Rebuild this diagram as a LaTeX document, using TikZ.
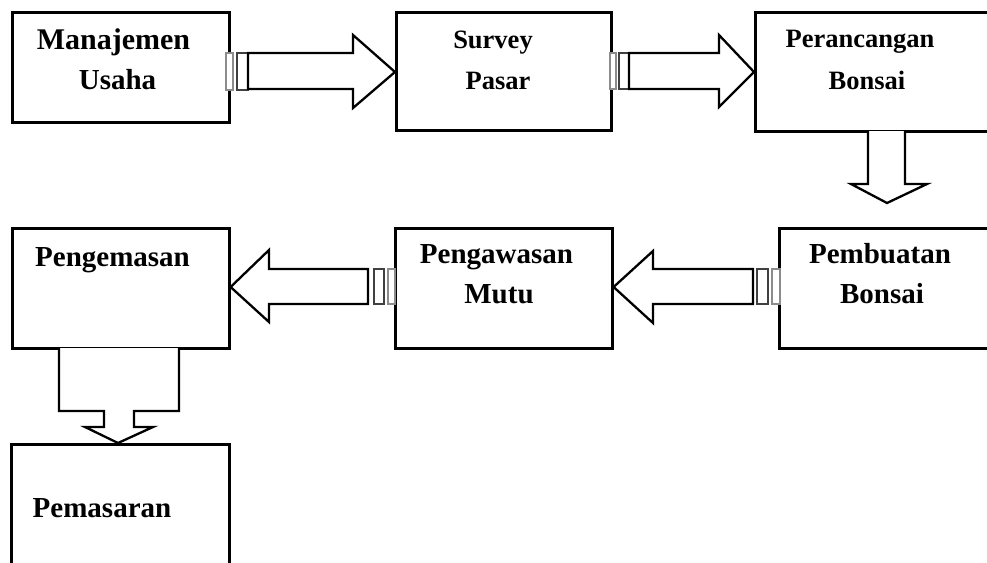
\documentclass[tikz,border=0pt]{standalone}
\usepackage{fontspec}
\setmainfont{Liberation Serif}
\begin{document}
\begin{tikzpicture}[x=1pt,y=-1pt,
  box/.style={draw,line width=2.6pt,rectangle,inner sep=0pt,anchor=north west},
  txt/.style={anchor=base,inner sep=0pt,font=\bfseries\fontsize{29}{31}\selectfont},
  txtl/.style={anchor=base,inner sep=0pt,font=\bfseries\fontsize{30}{31}\selectfont},
  txts/.style={anchor=base,inner sep=0pt,font=\bfseries\fontsize{26.5}{30}\selectfont},
  barrow/.style={draw,line width=2.3pt,fill=white,line join=miter},
  tabA/.style={draw=black!75,line width=1.3pt,fill=white},
  tabB/.style={draw=black!45,line width=1.1pt,fill=white}]
\useasboundingbox (0,0) rectangle (987,562);
\clip (0,0) rectangle (987,562);
% boxes
\node[box,minimum width=217pt,minimum height=110pt] (b1) at (11,11) {};
\node[box,minimum width=215pt,minimum height=118pt] (b2) at (395,11) {};
\node[box,minimum width=250pt,minimum height=119pt] (b3) at (754,11) {};
\node[box,minimum width=217pt,minimum height=120pt] (b4) at (11,227) {};
\node[box,minimum width=217pt,minimum height=120pt] (b5) at (394,227) {};
\node[box,minimum width=230pt,minimum height=120pt] (b6) at (778,227) {};
\node[box,minimum width=218pt,minimum height=160pt] (b7) at (10,443) {};
% texts
\node[txtl] (t1a) at (113.5,49) {Manajemen};
\node[txt] (t1b) at (117.5,89) {Usaha};
\node[txts] (t2a) at (493,48) {Survey};
\node[txts] (t2b) at (498,89) {Pasar};
\node[txts] (t3a) at (860,47) {Perancangan};
\node[txts] (t3b) at (867,89) {Bonsai};
\node[txt] (t4) at (112.5,266) {Pengemasan};
\node[txt] (t5a) at (496.5,263) {Pengawasan};
\node[txt] (t5b) at (499,303) {Mutu};
\node[txt] (t6a) at (880,263) {Pembuatan};
\node[txt] (t6b) at (882,303) {Bonsai};
\node[txt] (t7) at (102,517) {Pemasaran};
% arrow 1: b1 -> b2
\draw[tabB] (226,53) rectangle (233,90);
\draw[tabA] (237,53) rectangle (248,90);
\draw[barrow] (248,53) -- (353,53) -- (353,35) -- (b2.west |- 0,72) -- (353,108) -- (353,89) -- (248,89) -- cycle;
% arrow 2: b2 -> b3
\draw[tabB] (610,53) rectangle (616,89);
\draw[tabA] (619,53) rectangle (629,89);
\draw[barrow] (629,53) -- (719,53) -- (719,35) -- (b3.west |- 0,72) -- (719,107) -- (719,89) -- (629,89) -- cycle;
% arrow 3: b3 -> b6
\draw[barrow] (868,131) -- (868,184) -- (851,184) -- (887,203) -- (927,184) -- (905,184) -- (905,131);
% arrow 4: b5 -> b4
\draw[tabA] (374,269) rectangle (384,304);
\draw[tabB] (388,269) rectangle (395,304);
\draw[barrow] (368,269) -- (269,269) -- (269,250) -- (b4.east |- 0,287) -- (269,322) -- (269,304) -- (368,304) -- cycle;
% arrow 5: b6 -> b5
\draw[tabA] (757,269) rectangle (768,304);
\draw[tabB] (772,269) rectangle (780,304);
\draw[barrow] (753,269) -- (653,269) -- (653,251) -- (b5.east |- 0,287) -- (653,323) -- (653,304) -- (753,304) -- cycle;
% arrow 6: b4 -> b7
\draw[barrow] (59,348) -- (59,411) -- (104,411) -- (104,427) -- (85,427) -- (118,443) -- (153,427) -- (134,427) -- (134,411) -- (179,411) -- (179,348);
\end{tikzpicture}
\end{document}
